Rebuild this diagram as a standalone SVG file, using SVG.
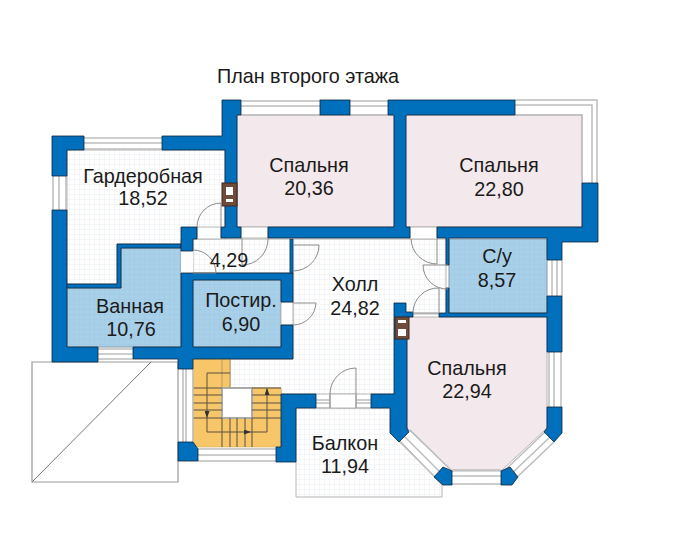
<svg xmlns="http://www.w3.org/2000/svg" width="700" height="545" viewBox="0 0 700 545">
<style>
text{font-family:"Liberation Sans",Arial,sans-serif;font-size:19.8px;fill:#1a1a1a;text-anchor:middle}
.w{fill:#006FBC;stroke:#10243a;stroke-width:.8}
.g{fill:url(#grid);stroke:#b5b5b5;stroke-width:1}
.b{fill:#F3E8EB;stroke:#b5b5b5;stroke-width:1}
.a{fill:url(#gridb);stroke:#8a9aa8;stroke-width:1}
.l{fill:none;stroke:#bdbdbd;stroke-width:1.5}
.d{fill:none;stroke:#8c8c8c;stroke-width:1}
.t{fill:none;stroke:#5a5040;stroke-width:1}
</style>
<defs>
<pattern id="grid" width="5" height="5" patternUnits="userSpaceOnUse"><rect width="5" height="5" fill="#fff"/><path d="M5 0V5M0 5H5" stroke="#ebedef" stroke-width="1" fill="none"/></pattern>
<pattern id="gridb" width="5" height="5" patternUnits="userSpaceOnUse"><rect width="5" height="5" fill="#A9D0E9"/><path d="M5 0V5M0 5H5" stroke="#a0c9e4" stroke-width="1" fill="none"/></pattern>
<marker id="ar" markerWidth="7" markerHeight="5" refX="6" refY="2.5" orient="auto"><path d="M0 0L7 2.5L0 5Z" fill="#333"/></marker>
</defs>
<rect width="700" height="545" fill="#fff"/>
<text x="308" y="83">План второго этажа</text>

<g id="floors">
<path class="g" d="M67 150H225V240H181V244H117V284H67Z"/>
<rect class="g" x="193" y="239" width="97" height="34"/>
<path class="g" d="M293 239H446V314H406V394H281V388H230V359H293Z"/>
<path class="g" d="M296 408H392V432L442 485V497H296Z"/>
<rect class="b" x="237" y="115" width="157" height="112"/>
<rect class="b" x="406" y="115" width="176" height="112"/>
<path class="b" d="M407 317H547V428L501 471H452L407 428Z"/>
<path class="a" d="M67 288H121V248H181V347H67Z"/>
<rect class="a" x="193" y="280" width="88" height="67"/>
<rect class="a" x="449" y="239" width="98" height="74"/>
</g>

<g id="terrace">
<path d="M32 362H178V482H32Z" fill="#fff" stroke="#9a9a9a" stroke-width="1.2"/>
<path d="M32 482L151 362" stroke="#777" stroke-width="1" fill="none"/>
</g>

<g id="stairs">
<path d="M193 359H230V388H281V447H193Z" fill="#F6C669" stroke="#d8b060" stroke-width="0.6"/>
<rect x="222" y="388" width="30" height="30" fill="#fff" stroke="#aaa" stroke-width="2"/>
<path class="t" d="M193 388H222M193 395H222M193 403H222M193 410H222M193 418H222M252 388H281M252 395H281M252 403H281M252 410H281M252 418H281M222 418V447M230 418V447M237 418V447M245 418V447M252 418V447"/>
<path d="M222 359V388M230 359V388" stroke="#b39a60" stroke-width="1" fill="none"/>
<path class="t" d="M230 373H207V417" marker-end="url(#ar)"/>
<path class="t" d="M207 417V432H250" marker-end="url(#ar)"/>
<path class="t" d="M250 432H267V389" marker-end="url(#ar)"/>
</g>

<g id="windows">
<path class="l" d="M84 138H162M84 143H162M84 149H162"/>
<path class="l" d="M53 176V210M59 176V210M66 176V210"/>
<path class="l" d="M98 349H133M98 354H133M98 359H133"/>
<path class="l" d="M241 101H320M241 106H320M241 115H320M350 101H388M350 106H388M350 115H388"/>
<path class="l" d="M515 100H597V183M515 105H592V183M515 115H582V183"/>
<path class="l" d="M552 260V296M557 260V296M562 260V296"/>
<path class="l" d="M549 352V407M554 352V407M561 352V407"/>
<path class="l" d="M183 369V442M186 369V442M193 369V442"/>
<path class="l" d="M198 449H276M198 455H276M198 461H276"/>
<path class="l" d="M316 400H371M316 403H371M316 408H371"/>
<path class="l" d="M452 470H501M452 476H501M452 484H501"/>
<path class="l" d="M410 430L453 472M404 436L448 480M399 441L443 485"/>
<path class="l" d="M545 432L503 472M550 437L508 477M554 442L512 482"/>
<rect x="330" y="394" width="26" height="14" fill="#fff" stroke="#b5b5b5"/>
<rect x="181" y="251" width="12" height="22" fill="#fff"/>
<rect x="281" y="302" width="12" height="23" fill="#fff" stroke="#b5b5b5"/>
<rect x="197" y="227" width="24" height="12" fill="#fff" stroke="#b5b5b5"/>
<rect x="241" y="227" width="27" height="11" fill="#fff" stroke="#b5b5b5"/>
<rect x="410" y="227" width="27" height="12" fill="#fff" stroke="#b5b5b5"/>
</g>

<g id="walls">
<path class="w" d="M52 136H84V150H67V176H52Z"/>
<path class="w" d="M52 210H67V347H98V362H52Z"/>
<path class="w" d="M162 136H222V100H241V115H237V227H241V238H221V227H225V150H162Z"/>
<path class="w" d="M67 284H117V244H181V248H121V288H67Z"/>
<rect class="w" x="320" y="100" width="30" height="15"/>
<path class="w" d="M388 100H515V115H406V227H410V238H268V227H394V115H388Z"/>
<path class="w" d="M582 183H598V242H562V260H547V238H449V265H446V238H437V227H582Z"/>
<path class="w" d="M181 227H197V239H193V251H181Z"/>
<path class="w" d="M181 273H293V302H281V280H193V347H281V325H293V359H193V369H178V359H133V347H181Z"/>
<rect x="290" y="239" width="3" height="34" fill="#006FBC" stroke="#10243a" stroke-width="0.6"/>
<path class="w" d="M281 394H316V408H296V462H276V447H281Z"/>
<path class="w" d="M178 442H193L198 449V461H178Z"/>
<path class="w" d="M394 303H406V312H413V317H407V428L409 432L399 442L390 433V408H371V394H394Z"/>
<path class="w" d="M439 313H446V288H449V313H547V296H562V352H547V317H439Z"/>
<path class="w" d="M547 407H562V433L554 442L544 432L547 428Z"/>
<path class="w" d="M501 471L510 467L518 477L512 485H501Z"/>
<path class="w" d="M452 471L443 467L434 477L443 485H452Z"/>
</g>

<g id="chimneys">
<rect x="222" y="183" width="15" height="23" fill="#6E4B3A" stroke="#3a2a20"/>
<rect x="226" y="187" width="7" height="8" fill="#fff"/><rect x="226" y="199" width="7" height="3" fill="#fff"/>
<rect x="395" y="317" width="14" height="22" fill="#6E4B3A" stroke="#3a2a20"/>
<rect x="398" y="320" width="8" height="3" fill="#fff"/><rect x="398" y="329" width="8" height="7" fill="#fff"/>
</g>

<g id="doors">
<path class="d" d="M221 203V227M197 227A24 24 0 0 1 221 203"/>
<path class="d" d="M242 238V265A26 26 0 0 0 268 238"/>
<path class="d" d="M193 250A23 23 0 0 1 216 273H193"/>
<path class="d" d="M293 245H319A26 26 0 0 1 293 271"/>
<path class="d" d="M293 303H316A23 23 0 0 1 293 325"/>
<path class="d" d="M437 239V264A26 26 0 0 1 411 239"/>
<path class="d" d="M448 265H423A24 24 0 0 0 448 289"/>
<path class="d" d="M439 288V313H413A25 25 0 0 1 439 288"/>
<path class="d" d="M356 394V368A26 26 0 0 0 330 394"/>
<path class="d" d="M330 394V408M356 394V408"/>
</g>

<g id="labels">
<text x="143" y="183">Гардеробная</text><text x="143" y="205">18,52</text>
<text x="309" y="172">Спальня</text><text x="309" y="195">20,36</text>
<text x="499" y="172">Спальня</text><text x="499" y="196">22,80</text>
<text x="229" y="267">4,29</text>
<text x="497" y="263">С/у</text><text x="497" y="287">8,57</text>
<text x="355" y="291">Холл</text><text x="355" y="315">24,82</text>
<text x="241" y="307">Постир.</text><text x="241" y="331">6,90</text>
<text x="130" y="313">Ванная</text><text x="131" y="336">10,76</text>
<text x="467" y="375">Спальня</text><text x="467" y="398">22,94</text>
<text x="345" y="450">Балкон</text><text x="345" y="473">11,94</text>
</g>
</svg>
